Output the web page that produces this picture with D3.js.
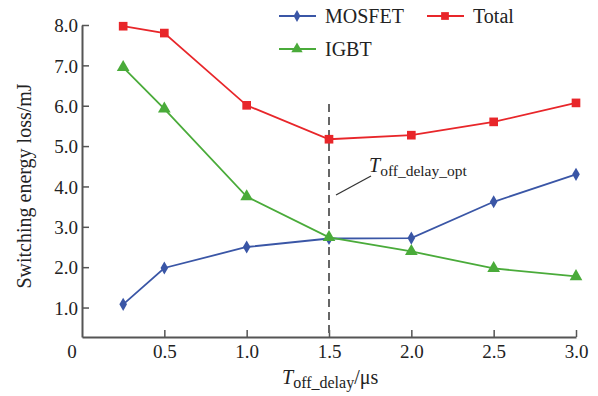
<!DOCTYPE html>
<html>
<head>
<meta charset="utf-8">
<script src="https://cdn.jsdelivr.net/npm/d3@7"></script>
<style>
  body { margin: 0; background: white; }
  text { font-family: "Liberation Serif", "Times New Roman", serif; fill: #222; }
</style>
</head>
<body>
<div id="vis"></div>
<script>
// data
const delays = [0.25, 0.5, 1.0, 1.5, 2.0, 2.5, 3.0];
const mosfet = [1.08, 1.98, 2.50, 2.71, 2.72, 3.62, 4.30];
const igbt = [6.95, 5.92, 3.75, 2.74, 2.39, 1.97, 1.77];
const total = [7.97, 7.80, 6.01, 5.17, 5.27, 5.60, 6.07];
const xTicks = [0.5, 1.0, 1.5, 2.0, 2.5, 3.0];
const yTicks = [1, 2, 3, 4, 5, 6, 7, 8];
const optDelay = 1.5;

let width = 598;
let height = 396;

let margin = { top: 25, bottom: 59, left: 82, right: 22 };

let svg = d3.select("#vis")
  .append("svg")
  .attr("width", width)
  .attr("height", height)
  .style("background", "white");

// scales
let xScale = d3.scaleLinear()
  .domain([0, 3])
  .range([margin.left, width - margin.right]);

let yScale = d3.scaleLinear()
  .domain([0.27, 8])
  .range([height - margin.bottom, margin.top]);

// axes, ticks pointing inward
let xAxis = svg.append("g")
  .attr("transform", `translate(0, ${height - margin.bottom})`)
  .call(d3.axisBottom(xScale).tickValues(xTicks).tickSize(-7).tickSizeOuter(0).tickPadding(7)
    .tickFormat(d3.format(".1f")));

let yAxis = svg.append("g")
  .attr("transform", `translate(${margin.left}, 0)`)
  .call(d3.axisLeft(yScale).tickValues(yTicks).tickSize(-7).tickSizeOuter(0).tickPadding(4)
    .tickFormat(d3.format(".1f")));

[xAxis, yAxis].forEach(function(g) {
  g.select(".domain").attr("stroke", "#555").attr("stroke-width", 2);
  g.selectAll(".tick line").attr("stroke", "#555").attr("stroke-width", 1.5);
  g.selectAll(".tick text").style("font-size", "19px").style("font-family", "Liberation Serif").attr("fill", "#222");
});
yAxis.selectAll(".tick text").attr("dy", "0.35em");
xAxis.selectAll(".tick text").attr("dy", "0.75em");

// origin label at the corner of the axes
svg.append("text")
  .attr("x", margin.left - 10)
  .attr("y", height - margin.bottom + 21)
  .attr("text-anchor", "middle")
  .style("font-size", "19px")
  .text("0");

// dashed marker for optimal delay
svg.append("line")
  .attr("x1", xScale(optDelay))
  .attr("x2", xScale(optDelay))
  .attr("y1", 104)
  .attr("y2", height - margin.bottom)
  .attr("stroke", "#666")
  .attr("stroke-width", 2)
  .attr("stroke-dasharray", "8,5");

let series = [
  { name: "MOSFET", values: mosfet, color: "#3a56a6", shape: d3.symbolDiamond, size: 50 },
  { name: "IGBT", values: igbt, color: "#4aab3a", shape: d3.symbolTriangle, size: 70 },
  { name: "Total", values: total, color: "#e8262a", shape: d3.symbolSquare, size: 75 }
];

let line = d3.line()
  .x((d, i) => xScale(delays[i]))
  .y(d => yScale(d));

series.forEach(function(s) {
  svg.append("path")
    .datum(s.values)
    .attr("d", line)
    .attr("fill", "none")
    .attr("stroke", s.color)
    .attr("stroke-width", 1.8);

  svg.selectAll(null)
    .data(s.values)
    .enter()
    .append("path")
    .attr("d", d3.symbol().type(s.shape).size(s.size))
    .attr("transform", (d, i) => `translate(${xScale(delays[i])}, ${yScale(d)})`)
    .attr("fill", s.color);
});

// annotation
svg.append("line")
  .attr("x1", 336).attr("y1", 195)
  .attr("x2", 371).attr("y2", 176)
  .attr("stroke", "#333")
  .attr("stroke-width", 1.3);

let ann = svg.append("text")
  .attr("x", 369)
  .attr("y", 172)
  .style("font-size", "20px");
ann.append("tspan").style("font-style", "italic").text("T");
ann.append("tspan").attr("dy", 4).style("font-size", "15.5px").text("off_delay_opt");

// legend
let legend = [
  { s: series[0], x: 279, y: 16 },
  { s: series[2], x: 427, y: 16 },
  { s: series[1], x: 279, y: 49 }
];

legend.forEach(function(l) {
  svg.append("line")
    .attr("x1", l.x).attr("x2", l.x + 37)
    .attr("y1", l.y).attr("y2", l.y)
    .attr("stroke", l.s.color)
    .attr("stroke-width", 2);
  svg.append("path")
    .attr("d", d3.symbol().type(l.s.shape).size(l.s.size * 0.8))
    .attr("transform", `translate(${l.x + 18}, ${l.y})`)
    .attr("fill", l.s.color);
  svg.append("text")
    .attr("x", l.x + 46)
    .attr("y", l.y + 7)
    .style("font-size", "20px")
    .text(l.s.name);
});

// axis titles
let xt = svg.append("text")
  .attr("x", 282)
  .attr("y", 384)
  .style("font-size", "20px");
xt.append("tspan").style("font-style", "italic").text("T");
xt.append("tspan").attr("dy", 4).style("font-size", "16px").text("off_delay");
xt.append("tspan").attr("dy", -4).text("/μs");

svg.append("text")
  .attr("transform", `translate(31, 186) rotate(-90)`)
  .attr("text-anchor", "middle")
  .style("font-size", "20px")
  .text("Switching energy loss/mJ");
</script>
</body>
</html>
